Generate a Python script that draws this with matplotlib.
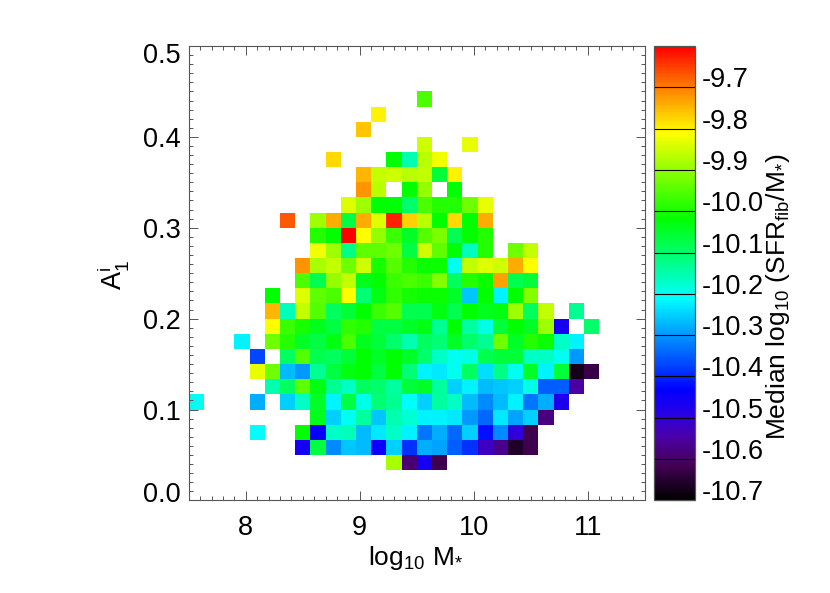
import numpy as np
import matplotlib
matplotlib.use("Agg")
import matplotlib.pyplot as plt
from matplotlib.colors import LinearSegmentedColormap, Normalize
from matplotlib.transforms import ScaledTranslation
from matplotlib.ticker import MultipleLocator

plt.rcParams['font.family'] = ['Liberation Sans', 'DejaVu Sans']
plt.rcParams['mathtext.fontset'] = 'custom'
plt.rcParams['mathtext.rm'] = 'Liberation Sans'
plt.rcParams['mathtext.it'] = 'Liberation Sans'
plt.rcParams['mathtext.bf'] = 'Liberation Sans'

__ = np.nan

# Median log10(SFRfib/M*) per bin; rows run from A=0 upward, columns from log M=7.5 rightward
row_02 = [__,__,__,__,__, __,__,__,__,__, __,__,__,-9.88,-10.59,-10.46,-10.62]
row_03 = [__,__,__,__,__, __,__,-10.46,-10.07,-10.31,-10.26,-10.27,-10.45,-10.25,-10.39,-10.28,-10.29,-10.35,-10.39,-10.52,-10.57,-10.66,-10.62]
row_04 = [__,__,__,__,-10.21, __,__,-10.02,-10.44,-10.17,-10.16,-10.27,-10.23,-10.17,-10.22,-10.33,-10.28,-10.34,-10.25,-10.42,-10.31,-10.50,-10.62]
row_05 = [__,__,__,__,__, __,__,__,-10.04,-10.25,-10.20,-10.14,-10.26,-10.15,-10.18,-10.22,-10.22,-10.23,-10.30,-10.34,-10.23,-10.29,-10.25,-10.58]
row_06 = [-10.20,__,__,__,-10.28, __,-10.25,-10.17,-10.05,-10.22,-10.07,-10.19,-10.11,-10.13,-10.21,-10.25,-10.14,-10.17,-10.27,-10.31,-10.27,-10.22,-10.33,-10.28,-10.47]
row_07 = [__,__,__,__,__, -10.15,-10.09,-9.94,-10.03,-10.13,-10.17,-10.09,-10.10,-10.14,-10.06,-10.05,-10.14,-10.25,-10.22,-10.27,-10.26,-10.25,-10.19,-10.35,-10.35,-10.55]
row_08 = [__,__,__,__,-9.83, -9.93,-10.27,-10.30,-10.13,-10.07,-10.03,-10.02,-10.07,-10.02,-10.11,-10.22,-10.23,-10.20,-10.09,-10.24,-10.12,-10.20,-10.05,-10.22,-10.06,-10.67,-10.63]
row_09 = [__,__,__,__,-10.37, __,-10.09,-9.95,-10.08,-10.09,-10.06,-10.02,-10.05,-10.02,-10.05,-10.10,-10.17,-10.20,-10.19,-10.08,-10.06,-10.06,-10.17,-10.17,-10.20,-10.30]
row_10 = [__,__,__,-10.22,__, -9.93,-9.99,-10.05,-10.07,-10.03,-9.96,-10.04,-10.06,-10.10,-10.15,-10.09,-10.11,-10.05,-10.10,-10.13,-9.93,-10.05,-9.99,-10.01,-10.17,-10.22]
row_11 = [__,__,__,__,__, -9.81,-9.97,-10.00,-10.04,-10.07,-9.98,-9.99,-10.07,-10.07,-10.05,-10.03,-10.13,-10.02,-10.14,-10.19,-10.06,-10.02,-10.05,-9.89,-10.46,__,-10.10]
row_12 = [__,__,__,__,__, -9.75,-10.16,-9.86,-9.95,-10.09,-10.06,-10.02,-9.97,-9.95,-10.08,-10.08,-10.03,-10.08,-10.02,-10.04,-10.03,-9.89,-10.09,-9.86,__,-10.13]
row_13 = [__,__,__,__,__, -10.02,__,-9.84,-9.94,-9.96,-9.81,-10.11,-10.03,-9.98,-10.00,-10.01,-10.01,-10.05,-10.26,-10.02,-10.22,-10.02,-9.91]
row_14 = [__,__,__,__,__, __,__,-9.96,-10.08,-9.90,-9.86,-10.04,-10.02,-9.97,-9.96,-9.97,-9.91,-10.09,-9.99,-10.01,-9.73,-10.08,-10.06]
row_15 = [__,__,__,__,__, __,__,-9.72,-9.88,-9.86,-9.93,-9.85,-10.00,-9.95,-9.99,-10.01,-10.01,-10.20,-9.86,-9.84,-9.85,-9.74,-9.81]
row_16 = [__,__,__,__,__, __,__,__,-9.82,-9.89,-10.12,-9.94,-9.94,-9.93,-10.07,-9.85,-9.94,-10.02,-10.16,-9.99,__,-9.93,-9.86]
row_17 = [__,__,__,__,__, __,__,__,-9.99,-10.02,-9.60,-9.81,-9.90,-9.97,-10.05,-9.95,-9.92,-10.08,-10.02,-9.99]
row_18 = [__,__,__,__,__, __,-9.67,__,-9.89,-9.74,-10.07,-9.74,-9.84,-9.63,-9.77,-9.87,-10.02,-9.78,-10.02,-9.74]
row_19 = [__,__,__,__,__, __,__,__,__,__, -9.84,-9.89,-10.02,-10.02,-10.10,-9.96,-9.99,-9.99,-9.93,-9.83]
row_20 = [__,__,__,__,__, __,__,__,__,__, __,-9.72,-9.87,__,-10.02,-9.90,__,-10.02]
row_21 = [__,__,__,__,__, __,__,__,__,__, __,-9.75,-9.86,-9.85,-9.87,-9.86,-10.06,-9.80]
row_22 = [__,__,__,__,__, __,__,__,__,-9.78, __,__,__,-10.02,-10.15,-9.87,-9.82]
row_23 = [__,__,__,__,__, __,__,__,__,__, __,__,__,__,__, -9.85,__,__,-9.83]
row_24 = [__,__,__,__,__, __,__,__,__,__, __,-9.76]
row_25 = [__,__,__,__,__, __,__,__,__,__, __,__,-9.80]
row_26 = [__,__,__,__,__, __,__,__,__,__, __,__,__,__,__, -9.96]

rows_by_index = {2: row_02, 3: row_03, 4: row_04, 5: row_05, 6: row_06, 7: row_07, 8: row_08,
                 9: row_09, 10: row_10, 11: row_11, 12: row_12, 13: row_13, 14: row_14,
                 15: row_15, 16: row_16, 17: row_17, 18: row_18, 19: row_19, 20: row_20,
                 21: row_21, 22: row_22, 23: row_23, 24: row_24, 25: row_25, 26: row_26}

n_bins = 30
x_edges = np.linspace(7.5, 11.5, n_bins + 1)
y_edges = np.linspace(0.0, 0.5, n_bins + 1)
grid = np.full((n_bins, n_bins), np.nan)
for r, vals in rows_by_index.items():
    grid[r, :len(vals)] = vals

x_ticks = [8, 9, 10, 11]
y_ticks = [0.0, 0.1, 0.2, 0.3, 0.4, 0.5]
cbar_ticks = [-9.7, -9.8, -9.9, -10.0, -10.1, -10.2, -10.3, -10.4, -10.5, -10.6, -10.7]
vmin, vmax = -10.7, -9.6

cmap = LinearSegmentedColormap.from_list('idl_rainbow', [
    (0.00, (0, 0, 0)), (0.08, (70/255, 0, 90/255)), (0.14, (75/255, 0, 170/255)),
    (0.19, (40/255, 0, 230/255)), (0.243, (0, 0, 1)), (0.345, (0, 0.5, 1)),
    (0.445, (0, 1, 1)), (0.53, (0, 1, 0.5)), (0.62, (0, 1, 0)), (0.715, (0.5, 1, 0)),
    (0.81, (1, 1, 0)), (0.909, (1, 0.5, 0)), (1.00, (1, 0, 0))], N=256)
cmap.set_bad('white')

W, H = 830, 593
FS = 19.5
fig = plt.figure(figsize=(W / 100, H / 100), dpi=100)
AX_GREY = '#555555'

ax = fig.add_axes([188.7 / W, (H - 500.4) / H, 456 / W, 454.4 / H])
mesh = ax.pcolormesh(x_edges, y_edges, np.ma.masked_invalid(grid), cmap=cmap,
                     norm=Normalize(vmin, vmax), antialiased=False, linewidth=0)
ax.set_xlim(7.5, 11.5)
ax.set_ylim(0.0, 0.5)
ax.set_xticks(x_ticks)
ax.set_yticks(y_ticks)
ax.xaxis.set_minor_locator(MultipleLocator(0.1))
ax.yaxis.set_minor_locator(MultipleLocator(0.01))
ax.tick_params(which='both', direction='in', top=True, right=True, color=AX_GREY, width=0.7)
ax.tick_params(which='major', length=6.5, labelsize=FS)
ax.tick_params(which='minor', length=3.2)
ax.tick_params(axis='x', which='major', pad=10.5)
ax.tick_params(axis='y', which='major', pad=5.8)
for s in ax.spines.values():
    s.set_color(AX_GREY)
    s.set_linewidth(0.8)
ax.set_yticklabels(['0.0', '0.1', '0.2', '0.3', '0.4', '0.5'])
labels = ax.get_yticklabels()
labels[0].set_transform(labels[0].get_transform() + ScaledTranslation(0, 8.5 / 100, fig.dpi_scale_trans))
labels[-1].set_transform(labels[-1].get_transform() + ScaledTranslation(0, -7 / 100, fig.dpi_scale_trans))

fig.text(416 / W, 1 - 565 / H, r'log$_{10}$ M$_{*}$', fontsize=19, ha='center', va='baseline')
fig.text(113 / W, 1 - 275 / H, r'A$_{1}^{\mathrm{i}}$', fontsize=FS, rotation=90, ha='center', va='center')

cax = fig.add_axes([654 / W, (H - 500.4) / H, 41.3 / W, 454.4 / H])
cb = fig.colorbar(mesh, cax=cax, ticks=cbar_ticks)
cb.ax.set_yticklabels([f'{t:.1f}' for t in cbar_ticks])
cb.ax.minorticks_off()
cb.ax.tick_params(direction='in', length=41.3 * 0.72, width=0.8, color='black', pad=4.5, labelsize=FS)
for lab in cb.ax.get_yticklabels():
    lab.set_verticalalignment('baseline')
cb.outline.set_edgecolor(AX_GREY)
cb.outline.set_linewidth(0.9)

fig.text(778 / W, 1 - 297 / H, r'Median log$_{10}$ (SFR$_{\mathrm{fib}}$/M$_{*}$)', fontsize=19,
         rotation=90, ha='center', va='center')

fig.savefig('out.png', dpi=100)
